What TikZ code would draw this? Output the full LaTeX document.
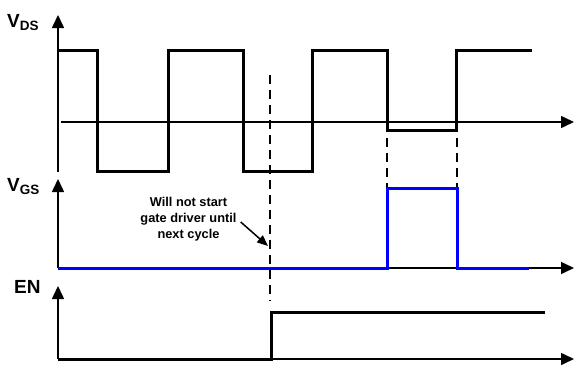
\documentclass[tikz,border=0pt]{standalone}
\usepackage{fontspec}
\setmainfont{Liberation Sans}
\usetikzlibrary{arrows.meta}

\begin{document}
\begin{tikzpicture}[x=1pt,y=-1pt,
	axis/.style={line width=1.6pt,-{Triangle[length=13pt,width=12pt]}},
	wave/.style={line width=3pt,line join=miter},
	gatewave/.style={line width=3pt,blue},
	sync/.style={line width=1.5pt,dash pattern=on 9pt off 6pt},
	sig/.style={font=\bfseries\fontsize{19}{19}\selectfont,inner sep=0pt,anchor=base west},
	note/.style={font=\bfseries\fontsize{12.8}{16}\selectfont,align=center,inner sep=1pt}]
		 %\draw[help lines] (0,0) grid (574,367);
		 \useasboundingbox (0,0) rectangle (574,367);
		 
		 % axes
		 \coordinate (vds-b) at (58,172);
		 \coordinate (vds-t) at (58,15);
		 \coordinate (vds-l) at (61,122);
		 \coordinate (vds-r) at (574,122);
		 \coordinate (vgs-o) at (58,268);
		 \coordinate (vgs-t) at (58,179);
		 \coordinate (vgs-r) at (574,268);
		 \coordinate (en-o) at (58,359);
		 \coordinate (en-t) at (58,286);
		 \coordinate (en-r) at (574,359);
		 
		 \draw[axis] (vds-b) -- (vds-t);
		 \draw[axis] (vds-l) -- (vds-r);
		 \draw[axis] (vgs-o) -- (vgs-t);
		 \draw[axis] (vgs-o) -- (vgs-r);
		 \draw[axis] (en-o) -- (en-t);
		 \draw[axis] (en-o) -- (en-r);
		 
		 \node[sig] (vds) at (7,27) {V\raisebox{-3pt}{\fontsize{13.5}{13.5}\selectfont DS}};
		 \node[sig] (vgs) at (7,191) {V\raisebox{-3pt}{\fontsize{13.5}{13.5}\selectfont GS}};
		 \node[sig] (en) at (14,293) {EN};
		 
		 % waveforms
		 \draw[wave] (58,50) -- (97,50) -- (97,171) -- (168,171) -- (168,50)
		 	-- (243,50) -- (243,171) -- (312,171) -- (312,50) -- (387,50)
		 	-- (387,130) -- (456,130) -- (456,50) -- (532,50);
		 \draw[gatewave] (58,268) -- (387,268) -- (387,188) -- (457,188)
		 	-- (457,268) -- (529,268);
		 \draw[wave] (58,359) -- (271,359) -- (271,312) -- (545,312);
		 
		 % sync lines
		 \draw[sync] (270,75) -- (270,301);
		 \draw[sync] (387,138) -- (387,187);
		 \draw[sync] (457,138) -- (457,187);
		 
		 \node[note] (msg) at (188.5,219) {Will not start\\gate driver until\\next cycle};
		 \coordinate (msg-tip) at (268,246);
		 \draw[line width=1.5pt,-{Triangle[length=11pt,width=9pt]}] ([xshift=3pt,yshift=-3pt]msg.east) -- (msg-tip);
		 \end{tikzpicture}
\end{document}
